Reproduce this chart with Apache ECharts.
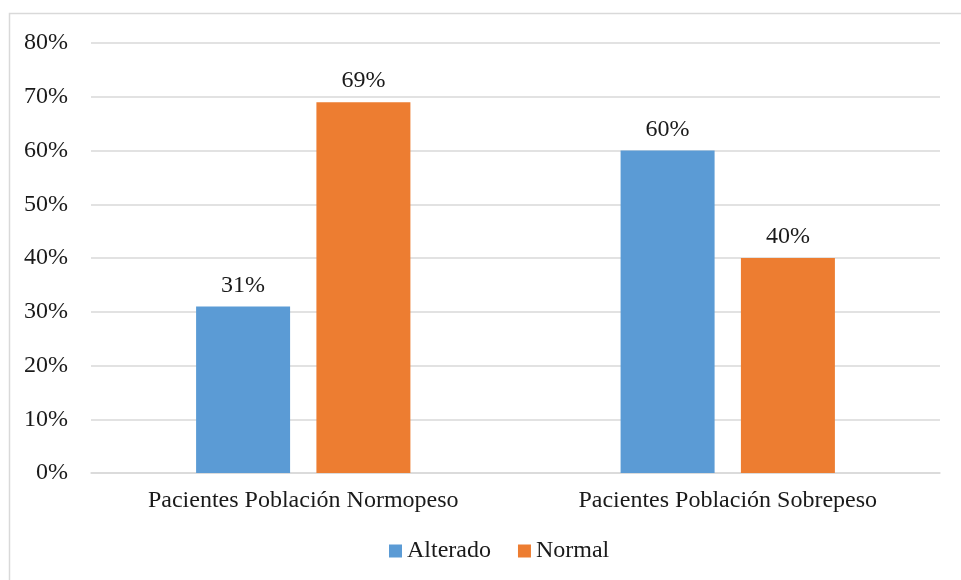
<!DOCTYPE html>
<html>
<head>
<meta charset="utf-8">
<script src="https://cdn.jsdelivr.net/npm/echarts@6/dist/echarts.min.js"></script>
<style>
  html, body { margin: 0; padding: 0; background: #fff; }
  #chart { width: 961px; height: 580px; }
</style>
</head>
<body>
<div id="chart"></div>
<script>
const categories = ['Pacientes Población Normopeso', 'Pacientes Población Sobrepeso']
const alterado = [31, 60]
const normal = [69, 40]

const chart = echarts.init(document.getElementById('chart'))

const labelStyle = {
  show: true,
  position: 'top',
  distance: 9,
  formatter: (p) => p.value + '%',
  color: '#1a1a1a',
  fontFamily: 'Liberation Serif',
  fontSize: 24,
}

chart.setOption({
  backgroundColor: '#fff',
  animation: false,
  graphic: [
    {
      type: 'rect',
      shape: { x: 9.5, y: 13.5, width: 1000, height: 600 },
      style: { fill: 'none', stroke: '#D9D9D9', lineWidth: 1.5 },
      silent: true,
    },
  ],
  grid: {
    left: 91,
    right: 21,
    top: 43,
    bottom: 107,
    containLabel: false,
  },
  legend: {
    bottom: 12,
    left: 384,
    itemWidth: 13,
    itemHeight: 13,
    itemGap: 27,
    icon: 'rect',
    textStyle: {
      color: '#1a1a1a',
      fontFamily: 'Liberation Serif',
      fontSize: 24,
    },
    data: ['Alterado', 'Normal'],
  },
  xAxis: {
    type: 'category',
    data: categories,
    axisLine: { lineStyle: { color: '#D9D9D9', width: 1.5 } },
    axisTick: { show: false },
    axisLabel: {
      color: '#1a1a1a',
      fontFamily: 'Liberation Serif',
      fontSize: 24,
      margin: 16,
    },
  },
  yAxis: {
    type: 'value',
    min: 0,
    max: 80,
    interval: 10,
    axisLine: { show: false },
    axisTick: { show: false },
    splitLine: { lineStyle: { color: '#D9D9D9', width: 1.5 } },
    axisLabel: {
      formatter: '{value}%',
      color: '#1a1a1a',
      fontFamily: 'Liberation Serif',
      fontSize: 24,
      margin: 23,
    },
  },
  series: [
    {
      name: 'Alterado',
      type: 'bar',
      data: alterado,
      barWidth: 94,
      barGap: '28%',
      itemStyle: { color: '#5B9BD5' },
      label: labelStyle,
    },
    {
      name: 'Normal',
      type: 'bar',
      data: normal,
      barWidth: 94,
      itemStyle: { color: '#ED7D31' },
      label: labelStyle,
    },
  ],
})
</script>
</body>
</html>
